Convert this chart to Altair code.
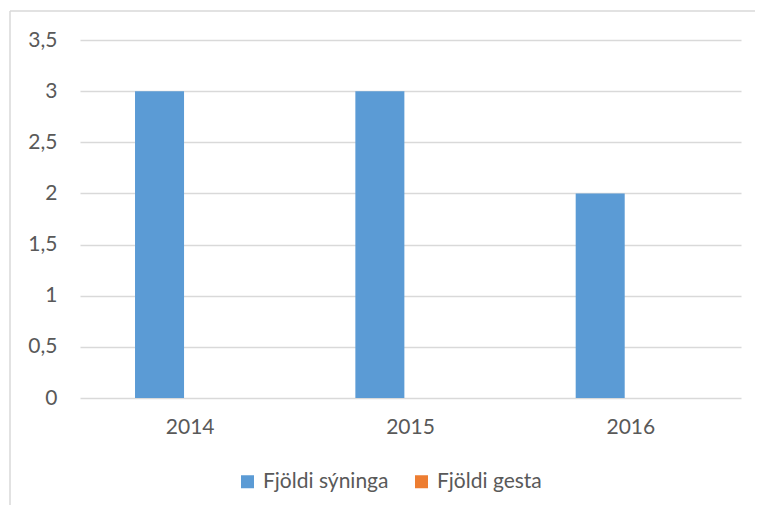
import altair as alt
import pandas as pd

years = ["2014", "2015", "2016"]
series = ["Fjöldi sýninga", "Fjöldi gesta"]
syninga = [3, 3, 2]
gesta = [None, None, None]
colors = ["#5B9BD5", "#ED7D31"]
y_ticks = [0, 0.5, 1, 1.5, 2, 2.5, 3, 3.5]

rows = []
for yr, a, b in zip(years, syninga, gesta):
    rows.append({"year": yr, "series": series[0], "value": a})
    rows.append({"year": yr, "series": series[1], "value": b})
df = pd.DataFrame(rows)

FONT = "Lato"
FS = 21
GRAY = "#D9D9D9"
TXT = "#595959"

bars = alt.Chart(df).mark_bar().encode(
    x=alt.X("year:N", sort=years,
            scale=alt.Scale(paddingInner=0, paddingOuter=0),
            axis=alt.Axis(title=None, labelAngle=0, ticks=False, domain=False, grid=False,
                          labelPadding=18, labelFontSize=FS, labelColor=TXT,
                          labelFont=FONT)),
    xOffset=alt.XOffset("series:N", sort=series,
                        scale=alt.Scale(domain=series, paddingInner=0.2, paddingOuter=0.898)),
    y=alt.Y("value:Q",
            scale=alt.Scale(domain=[0, 3.5], nice=False),
            axis=alt.Axis(title=None, values=y_ticks, ticks=False, domain=False,
                          gridColor=GRAY, gridWidth=1.3, labelPadding=23,
                          labelFontSize=FS, labelColor=TXT, labelFont=FONT,
                          labelExpr="replace(format(datum.value, ''), '.', ',')")),
    color=alt.Color("series:N", sort=series,
                    scale=alt.Scale(domain=series, range=colors),
                    legend=alt.Legend(title=None, orient="none", legendX=157, legendY=431,
                                      direction="horizontal", symbolType="square",
                                      symbolSize=169, symbolStrokeWidth=0,
                                      labelFontSize=FS, labelColor=TXT, labelFont=FONT,
                                      labelOffset=5, columnPadding=22)),
)

frame = pd.DataFrame({"k": [0]})
left_rule = alt.Chart(frame).mark_rule(color=GRAY, strokeWidth=1.5).encode(
    x=alt.value(-70), y=alt.value(-29), y2=alt.value(470))
top_rule = alt.Chart(frame).mark_rule(color=GRAY, strokeWidth=1.5).encode(
    x=alt.value(-70), x2=alt.value(690), y=alt.value(-29))

chart = alt.layer(bars, left_rule, top_rule).properties(
    width=661, height=358,
    autosize=alt.AutoSizeParams(type="none"),
    padding={"left": 72, "top": 32, "right": 14, "bottom": 107},
    view=alt.ViewBackground(strokeWidth=0, stroke="transparent"),
).configure_view(strokeWidth=0, stroke="transparent").configure(background="white")

chart.save("out.html", embed_options={"renderer": "svg", "actions": False})
